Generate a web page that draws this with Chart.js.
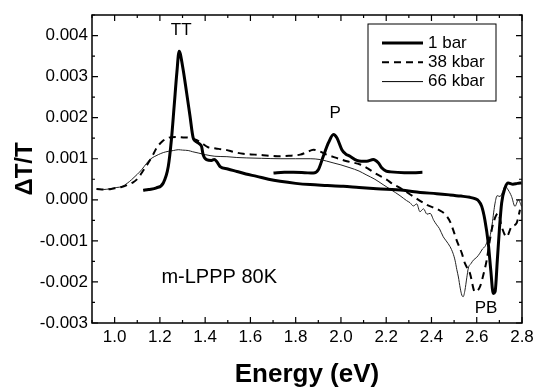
<!DOCTYPE html>
<html>
<head>
<meta charset="utf-8">
<script src="https://cdn.jsdelivr.net/npm/chart.js@4.4.1/dist/chart.umd.min.js"></script>
<style>
  body { margin: 0; background: #fff; }
  canvas { display: block; }
</style>
</head>
<body>
<canvas id="chart" width="539" height="388"></canvas>
<script>
// 1 bar, main scan (thick solid)
var energy1bar = [1.126, 1.15, 1.185, 1.215, 1.237, 1.251, 1.263, 1.275, 1.285, 1.30, 1.318, 1.333, 1.347, 1.362, 1.375, 1.384, 1.391, 1.406, 1.428, 1.44, 1.45, 1.466, 1.50, 1.54, 1.58, 1.628, 1.68, 1.731, 1.80, 1.864, 1.94, 2.01, 2.08, 2.158, 2.276, 2.35, 2.423, 2.48, 2.53, 2.57, 2.595, 2.607, 2.622, 2.636, 2.651, 2.662, 2.673, 2.681, 2.691, 2.70, 2.71, 2.725, 2.739, 2.76, 2.78, 2.798];
var dT1bar = [0.00023, 0.00025, 0.00029, 0.00041, 0.00081, 0.00147, 0.00228, 0.0031, 0.00362, 0.00326, 0.00261, 0.00204, 0.00151, 0.00141, 0.00136, 0.0013, 0.0011, 0.00098, 0.00096, 0.00098, 0.00094, 0.00081, 0.00075, 0.00069, 0.00063, 0.00057, 0.0005, 0.00045, 0.0004, 0.00037, 0.00035, 0.00033, 0.0003, 0.00027, 0.00023, 0.00018, 0.00015, 0.00012, 0.00009, 0.00006, 0.00002, -0.00002, -0.00016, -0.00049, -0.00106, -0.00171, -0.00228, -0.00224, -0.00147, -0.00073, -0.00008, 0.00029, 0.00041, 0.00038, 0.0004, 0.00041];

// 1 bar, second scan around P
var energy1barP = [1.702, 1.75, 1.79, 1.84, 1.878, 1.90, 1.922, 1.945, 1.967, 1.982, 2.004, 2.02, 2.04, 2.07, 2.09, 2.114, 2.143, 2.165, 2.18, 2.20, 2.22, 2.28, 2.32, 2.36];
var dT1barP = [0.00065, 0.00067, 0.00067, 0.00066, 0.00065, 0.00073, 0.00106, 0.00139, 0.00159, 0.00151, 0.00122, 0.00112, 0.00106, 0.00096, 0.00094, 0.00094, 0.00098, 0.0009, 0.00078, 0.0007, 0.00068, 0.00066, 0.00066, 0.00067];

// 38 kbar (dashed)
var energy38 = [0.92, 0.96, 1.00, 1.03, 1.06, 1.08, 1.104, 1.125, 1.149, 1.17, 1.185, 1.21, 1.237, 1.27, 1.303, 1.33, 1.355, 1.38, 1.413, 1.436, 1.46, 1.489, 1.53, 1.568, 1.62, 1.67, 1.72, 1.77, 1.82, 1.85, 1.878, 1.905, 1.937, 1.98, 2.026, 2.085, 2.12, 2.15, 2.202, 2.23, 2.261, 2.32, 2.379, 2.43, 2.46, 2.482, 2.50, 2.511, 2.534, 2.548, 2.57, 2.592, 2.614, 2.629, 2.644, 2.658, 2.673, 2.695, 2.71, 2.732, 2.754, 2.776, 2.791];
var dT38 = [0.00026, 0.00025, 0.00028, 0.00031, 0.00037, 0.00042, 0.00053, 0.0007, 0.0009, 0.0011, 0.00126, 0.00142, 0.00151, 0.00153, 0.00152, 0.00151, 0.00147, 0.0014, 0.00128, 0.00126, 0.00124, 0.00122, 0.00116, 0.00112, 0.0011, 0.00108, 0.00106, 0.00107, 0.0011, 0.00116, 0.00122, 0.00118, 0.0011, 0.00102, 0.00094, 0.00086, 0.00076, 0.00065, 0.00049, 0.00038, 0.00029, 0.00008, -0.00012, -0.00024, -0.00035, -0.00053, -0.0008, -0.00098, -0.0013, -0.00155, -0.00179, -0.00224, -0.00212, -0.00183, -0.00147, -0.00098, -0.00057, -0.00033, -0.00065, -0.0009, -0.00065, -0.00057, -0.00024];

// 66 kbar (thin solid)
var energy66 = [0.92, 0.95, 0.981, 1.01, 1.031, 1.055, 1.075, 1.10, 1.119, 1.14, 1.156, 1.175, 1.193, 1.215, 1.237, 1.26, 1.281, 1.30, 1.325, 1.345, 1.369, 1.40, 1.443, 1.496, 1.54, 1.584, 1.65, 1.731, 1.80, 1.864, 1.908, 1.965, 2.00, 2.04, 2.08, 2.111, 2.15, 2.186, 2.22, 2.261, 2.29, 2.305, 2.32, 2.335, 2.349, 2.365, 2.38, 2.394, 2.41, 2.423, 2.435, 2.452, 2.465, 2.482, 2.495, 2.504, 2.512, 2.519, 2.527, 2.534, 2.54, 2.548, 2.556, 2.563, 2.575, 2.585, 2.60, 2.614, 2.625, 2.636, 2.648, 2.658, 2.668, 2.675, 2.681, 2.69, 2.703, 2.715, 2.725, 2.739, 2.754, 2.769, 2.784, 2.798];
var dT66 = [0.00026, 0.00025, 0.00027, 0.0003, 0.00032, 0.0004, 0.00049, 0.00062, 0.00073, 0.00088, 0.00098, 0.00105, 0.0011, 0.00115, 0.00118, 0.0012, 0.00122, 0.00121, 0.0012, 0.00117, 0.00114, 0.0011, 0.00106, 0.00105, 0.00103, 0.00102, 0.00101, 0.001, 0.001, 0.001, 0.00098, 0.0009, 0.00085, 0.00078, 0.0007, 0.00061, 0.0005, 0.00037, 0.00025, 0.0001, -0.00002, -0.00007, -0.00015, -0.0001, -0.00029, -0.00022, -0.00035, -0.00033, -0.0005, -0.00061, -0.0007, -0.0009, -0.001, -0.00114, -0.0013, -0.00147, -0.0017, -0.00188, -0.00215, -0.00232, -0.00236, -0.0022, -0.0019, -0.00166, -0.00155, -0.00147, -0.0014, -0.0013, -0.0012, -0.00114, -0.001, -0.0009, -0.0006, -0.0003, -0.00008, 0.0001, 0.00008, 0.0002, 0.00033, 0.00024, 0.00008, -0.00016, 0, -0.00016];

var seriesNames = ["1 bar", "38 kbar", "66 kbar"];

// peak labels and the sample note, placed in data coordinates
var noteTexts = ["TT", "P", "PB", "m-LPPP 80K"];
var noteEnergy = [1.294, 1.974, 2.641, 1.462];
var noteValue = [0.00413, 0.0021, -0.00264, -0.0019];
var noteSize = [17, 17, 17, 20];

function points(xs, ys) {
  return xs.map(function (x, i) { return { x: x, y: ys[i] }; });
}

var fontFamily = '"Liberation Sans", Arial, sans-serif';
Chart.defaults.font.family = fontFamily;
Chart.defaults.color = "#000";

// inward ticks on all four sides, frame, boxed legend and text notes
var decorations = {
  id: "decorations",
  afterDraw: function (chart) {
    var ctx = chart.ctx;
    var a = chart.chartArea;
    var xs = chart.scales.x, ys = chart.scales.y;
    ctx.save();
    ctx.strokeStyle = "#000";
    ctx.lineWidth = 1.5;
    ctx.strokeRect(a.left, a.top, a.right - a.left, a.bottom - a.top);

    ctx.lineWidth = 1.2;
    ctx.beginPath();
    xs.ticks.forEach(function (t) {
      var px = xs.getPixelForValue(t.value);
      var len = t.label ? 6 : 3;
      ctx.moveTo(px, a.bottom); ctx.lineTo(px, a.bottom - len);
      ctx.moveTo(px, a.top); ctx.lineTo(px, a.top + len);
    });
    ys.ticks.forEach(function (t) {
      var py = ys.getPixelForValue(t.value);
      var len = t.label ? 6 : 3;
      ctx.moveTo(a.left, py); ctx.lineTo(a.left + len, py);
      ctx.moveTo(a.right, py); ctx.lineTo(a.right - len, py);
    });
    ctx.stroke();

    // legend box
    var bx = a.right - 154, by = a.top + 9, bw = 128, bh = 77;
    ctx.lineWidth = 1;
    ctx.strokeRect(bx, by, bw, bh);
    ctx.font = "17px " + fontFamily;
    ctx.textBaseline = "middle";
    ctx.textAlign = "left";
    ctx.fillStyle = "#000";
    seriesNames.forEach(function (name, i) {
      var ds = chart.data.datasets[i];
      var ly = by + 19 + i * 19.3;
      ctx.beginPath();
      ctx.lineWidth = ds.borderWidth;
      ctx.setLineDash(ds.borderDash || []);
      ctx.moveTo(bx + 14, ly); ctx.lineTo(bx + 55, ly);
      ctx.stroke();
      ctx.setLineDash([]);
      ctx.fillText(name, bx + 60, ly);
    });

    ctx.textAlign = "center";
    noteTexts.forEach(function (txt, i) {
      ctx.font = noteSize[i] + "px " + fontFamily;
      ctx.fillText(txt, xs.getPixelForValue(noteEnergy[i]), ys.getPixelForValue(noteValue[i]));
    });
    ctx.restore();
  }
};

new Chart(document.getElementById("chart"), {
  type: "line",
  data: {
    datasets: [
      { label: seriesNames[0], data: points(energy1bar, dT1bar), borderColor: "#000", borderWidth: 3 },
      { label: seriesNames[1], data: points(energy38, dT38), borderColor: "#000", borderWidth: 2, borderDash: [7, 5] },
      { label: seriesNames[2], data: points(energy66, dT66), borderColor: "#222", borderWidth: 1 },
      { label: "1 bar (P)", data: points(energy1barP, dT1barP), borderColor: "#000", borderWidth: 3 }
    ]
  },
  options: {
    responsive: false,
    animation: false,
    layout: { padding: { top: 15, right: 17, left: 0, bottom: 0 } },
    elements: {
      point: { radius: 0 },
      line: { cubicInterpolationMode: "monotone", fill: false }
    },
    plugins: {
      legend: { display: false },
      tooltip: { enabled: false }
    },
    scales: {
      x: {
        type: "linear",
        min: 0.9,
        max: 2.8,
        grid: { display: false, drawTicks: false },
        border: { display: false },
        ticks: {
          stepSize: 0.1,
          autoSkip: false,
          maxRotation: 0,
          padding: 4,
          font: { size: 17 },
          callback: function (v) {
            var k = Math.round(v * 10);
            return (k % 2 === 0 && k >= 10) ? (k / 10).toFixed(1) : "";
          }
        },
        title: {
          display: true,
          text: "Energy (eV)",
          font: { size: 26, weight: "bold", lineHeight: 1 },
          padding: { top: 0, bottom: 0 }
        },
        afterFit: function (s) { s.height = 65; }
      },
      y: {
        min: -0.003,
        max: 0.0045,
        grid: { display: false, drawTicks: false },
        border: { display: false },
        ticks: {
          stepSize: 0.0005,
          autoSkip: false,
          padding: 4,
          font: { size: 17 },
          callback: function (v) {
            var k = Math.round(v * 2000);
            return (k % 2 === 0) ? (k / 2000 + 0).toFixed(3) : "";
          }
        },
        title: {
          display: true,
          text: "ΔT/T",
          font: { size: 24, weight: "bold", lineHeight: 1 },
          padding: { top: 13, bottom: 0 }
        },
        afterFit: function (s) { s.width = 92; }
      }
    }
  },
  plugins: [decorations]
});
</script>
</body>
</html>
